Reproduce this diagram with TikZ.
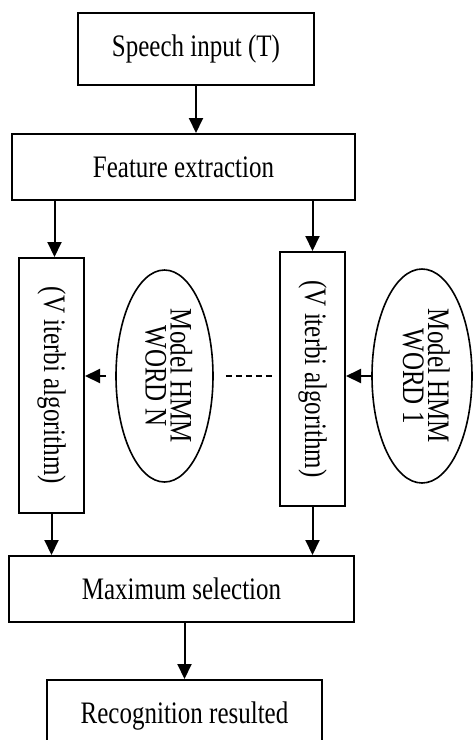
\documentclass[tikz,border=0pt]{standalone}
\usepackage{fontspec}
\setmainfont{Liberation Serif}
\usepackage{graphicx}
\usetikzlibrary{arrows.meta,shapes.geometric}
\newcommand{\tall}[1]{\scalebox{1}[1.25]{#1}}
\begin{document}
\begin{tikzpicture}[x=1pt,y=-1pt,
  box/.style={draw,line width=2pt,inner sep=0pt,align=center},
  oval/.style={draw,line width=1.6pt,ellipse,inner sep=0pt},
  arr/.style={line width=2pt,-{Triangle[width=14pt,length=15pt]}},
  every node/.style={font=\fontsize{25}{26}\selectfont}]
\useasboundingbox (0,0) rectangle (473,740);
\clip (0,0) rectangle (473,740);
\fill[white] (0,0) rectangle (473,740);
\node[box,minimum width=236pt,minimum height=72pt] (speech) at (196,49) {\tall{Speech input (T)}};
\node[box,minimum width=343pt,minimum height=66pt] (feat) at (183.5,167) {\tall{Feature extraction}};
\node[box,minimum width=65pt,minimum height=255pt] (vl) at (51.5,385.5) {\rotatebox{-90}{\tall{(V iterbi algorithm)}}};
\node[box,minimum width=65pt,minimum height=254pt] (vr) at (312.5,379) {\rotatebox{-90}{\tall{(V iterbi algorithm)}}};
\node[oval,minimum width=97pt,minimum height=212pt] (eN) at (164.5,376) {\rotatebox{-90}{\tall{\begin{tabular}{@{}c@{}}Model HMM\\[-6pt]WORD N\end{tabular}}}};
\node[oval,minimum width=100pt,minimum height=214pt] (e1) at (422,376) {\rotatebox{-90}{\tall{\begin{tabular}{@{}c@{}}Model HMM\\[-6pt]WORD 1\end{tabular}}}};
\node[box,minimum width=345pt,minimum height=66pt] (max) at (181.5,589) {\tall{Maximum selection}};
\node[box,minimum width=275pt,minimum height=80pt,text depth=0pt] (rec) at (184.5,720) {\raisebox{15pt}{\tall{Recognition resulted}}};
\draw[arr] (speech.south) -- (speech.south |- feat.north);
\draw[arr] ([xshift=3pt]vl.north |- feat.south) -- ([xshift=3pt]vl.north);
\draw[arr] (vr.north |- feat.south) -- (vr.north);
\draw[arr] ([xshift=-9pt]eN.west) -- (eN.west -| vl.east);
\draw[line width=1.6pt,dash pattern=on 6pt off 4pt] ([xshift=12pt]eN.east) -- ([xshift=-4pt]eN.east -| vr.west);
\draw[arr] (e1.west) -- (e1.west -| vr.east);
\draw[arr] (vl.south) -- (vl.south |- max.north);
\draw[arr] (vr.south) -- (vr.south |- max.north);
\draw[arr] (rec.north |- max.south) -- (rec.north);
\end{tikzpicture}
\end{document}
